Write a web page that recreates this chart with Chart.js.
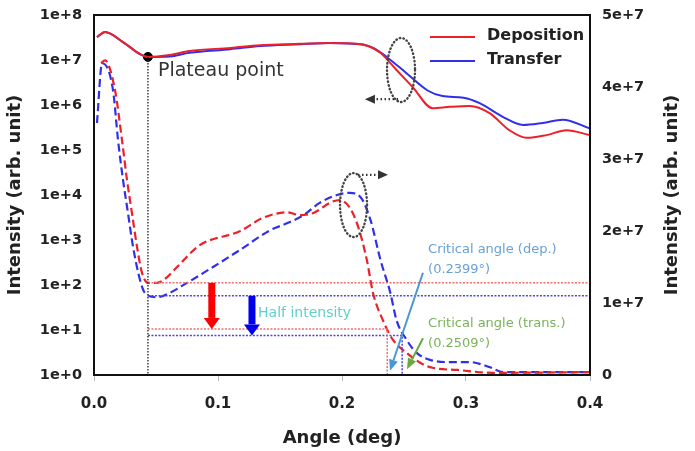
<!DOCTYPE html>
<html>
<head>
<meta charset="utf-8">
<script src="https://cdn.jsdelivr.net/npm/chart.js@4.4.1/dist/chart.umd.min.js"></script>
<style>
  html, body { margin: 0; padding: 0; background: #fff; }
</style>
</head>
<body>
<canvas id="myChart" width="695" height="451"></canvas>
<script>
// ---- data ----
// solid curves, left (log) axis
const depSolidAngle = [0.0024, 0.0089, 0.0234, 0.0371, 0.0435, 0.061, 0.077, 0.110, 0.134, 0.166, 0.190, 0.212, 0.222, 0.231, 0.244, 0.257, 0.273, 0.287, 0.303, 0.319, 0.335, 0.349, 0.365, 0.381, 0.400];
const depSolid = [3.2e7, 4.2e7, 2.5e7, 1.35e7, 1.17e7, 1.29e7, 1.58e7, 1.86e7, 2.14e7, 2.29e7, 2.4e7, 2.3e7, 2.0e7, 1.45e7, 6.0e6, 2.5e6, 8.5e5, 9.1e5, 9.5e5, 6.6e5, 2.75e5, 1.86e5, 2.14e5, 2.75e5, 2.14e5];
const trSolidAngle = [0.0024, 0.0089, 0.0234, 0.0371, 0.0435, 0.061, 0.077, 0.110, 0.134, 0.166, 0.190, 0.217, 0.226, 0.236, 0.252, 0.269, 0.281, 0.298, 0.311, 0.330, 0.346, 0.362, 0.378, 0.400];
const trSolid = [3.2e7, 4.2e7, 2.5e7, 1.35e7, 1.17e7, 1.2e7, 1.45e7, 1.74e7, 2.04e7, 2.24e7, 2.4e7, 2.2e7, 1.8e7, 1.17e7, 5.1e6, 2.1e6, 1.58e6, 1.45e6, 1.1e6, 5.4e5, 3.6e5, 4.0e5, 4.7e5, 3.0e5];

// dashed curves, right (linear) axis
const depDashAngle = [0.0056, 0.0089, 0.0169, 0.0226, 0.0266, 0.0306, 0.0347, 0.0387, 0.0435, 0.0508, 0.057, 0.067, 0.085, 0.118, 0.136, 0.156, 0.166, 0.177, 0.190, 0.198, 0.206, 0.213, 0.220, 0.225, 0.233, 0.241, 0.252, 0.263, 0.273, 0.293, 0.322, 0.400];
const depDash = [4.33e7, 4.37e7, 3.96e7, 3.26e7, 2.71e7, 2.25e7, 1.78e7, 1.42e7, 1.28e7, 1.28e7, 1.33e7, 1.5e7, 1.8e7, 2.0e7, 2.18e7, 2.26e7, 2.22e7, 2.25e7, 2.39e7, 2.43e7, 2.33e7, 2.06e7, 1.6e7, 1.14e7, 0.76e7, 0.49e7, 0.31e7, 0.17e7, 0.1e7, 0.07e7, 0.03e7, 0.04e7];
const trDashAngle = [0.0024, 0.0065, 0.0153, 0.0194, 0.0234, 0.0274, 0.0315, 0.0371, 0.0411, 0.0508, 0.061, 0.075, 0.096, 0.118, 0.142, 0.156, 0.169, 0.182, 0.196, 0.206, 0.215, 0.223, 0.231, 0.239, 0.244, 0.252, 0.260, 0.271, 0.287, 0.303, 0.319, 0.330, 0.400];
const trDash = [3.5e7, 4.33e7, 3.96e7, 3.26e7, 2.71e7, 2.25e7, 1.78e7, 1.32e7, 1.14e7, 1.08e7, 1.14e7, 1.28e7, 1.5e7, 1.74e7, 2.01e7, 2.11e7, 2.22e7, 2.39e7, 2.5e7, 2.53e7, 2.47e7, 2.15e7, 1.6e7, 1.14e7, 0.76e7, 0.49e7, 0.31e7, 0.21e7, 0.18e7, 0.18e7, 0.11e7, 0.04e7, 0.04e7];

// plateau point and half-intensity levels
const plateauAngle = 0.0435;
const plateauValue = 1.17e7;
const depPlateauDash = 1.28e7;
const trPlateauDash = 1.1e7;
const depHalf = 0.64e7;
const trHalf = 0.55e7;
const depCritical = 0.2365;
const trCritical = 0.2485;

// tick labels
const xTickLabels = ['0.0', '0.1', '0.2', '0.3', '0.4'];
const leftTickValues = [1, 1e1, 1e2, 1e3, 1e4, 1e5, 1e6, 1e7, 1e8];
const leftTickLabels = ['1e+0', '1e+1', '1e+2', '1e+3', '1e+4', '1e+5', '1e+6', '1e+7', '1e+8'];
const rightTickLabels = ['0', '1e+7', '2e+7', '3e+7', '4e+7', '5e+7'];

const seriesNames = ['Deposition', 'Transfer'];

// ---- styling ----
const RED = 'rgb(236, 32, 40)';
const BLUE = 'rgb(48, 48, 236)';
const BOLD = 'DejaVu Sans';
const TXT = '#222';

const zip = (xs, ys) => xs.map((v, i) => ({ x: v, y: ys[i] }));

const curve = (label, xs, ys, color, axis, dash) => ({
  label: label,
  data: zip(xs, ys),
  yAxisID: axis,
  borderColor: color,
  borderWidth: dash ? 2.2 : 2,
  borderDash: dash ? [8, 4] : [],
  pointRadius: 0,
  cubicInterpolationMode: 'monotone',
  fill: false,
});

const guide = (pts, color, axis, dash, width) => ({
  label: '',
  data: pts,
  yAxisID: axis,
  borderColor: color,
  borderWidth: width || 1.4,
  borderDash: dash,
  pointRadius: 0,
  tension: 0,
  fill: false,
});

function arrow(ctx, x0, y0, x1, y1, w, headW, headL, color, dash) {
  const ang = Math.atan2(y1 - y0, x1 - x0);
  const bx = x1 - headL * Math.cos(ang), by = y1 - headL * Math.sin(ang);
  ctx.save();
  ctx.strokeStyle = color;
  ctx.fillStyle = color;
  ctx.lineWidth = w;
  ctx.setLineDash(dash || []);
  ctx.beginPath();
  ctx.moveTo(x0, y0);
  ctx.lineTo(bx, by);
  ctx.stroke();
  ctx.setLineDash([]);
  const nx = -Math.sin(ang) * headW / 2, ny = Math.cos(ang) * headW / 2;
  ctx.beginPath();
  ctx.moveTo(x1, y1);
  ctx.lineTo(bx + nx, by + ny);
  ctx.lineTo(bx - nx, by - ny);
  ctx.closePath();
  ctx.fill();
  ctx.restore();
}

function dottedEllipse(ctx, cx, cy, rx, ry) {
  ctx.save();
  ctx.strokeStyle = '#444';
  ctx.lineWidth = 2.4;
  ctx.lineCap = 'round';
  ctx.setLineDash([0.5, 3.2]);
  ctx.beginPath();
  ctx.ellipse(cx, cy, rx, ry, 0, 0, Math.PI * 2);
  ctx.stroke();
  ctx.restore();
}

const overlay = {
  id: 'overlay',
  afterDatasetsDraw(chart) {
    const { ctx, scales: { x, y, y1 } } = chart;
    const px = (v) => x.getPixelForValue(v);
    const pl = (v) => y.getPixelForValue(v);
    const pr = (v) => y1.getPixelForValue(v);

    // half intensity arrows
    arrow(ctx, px(0.095), pr(depPlateauDash), px(0.095), pr(depHalf), 7, 16, 11, 'rgb(250, 0, 0)');
    arrow(ctx, px(0.1274), pr(trPlateauDash), px(0.1274), pr(trHalf), 7, 16, 11, 'rgb(0, 0, 235)');

    ctx.save();
    ctx.textBaseline = 'middle';
    ctx.textAlign = 'left';
    ctx.fillStyle = 'rgb(96, 208, 204)';
    ctx.font = '14px "DejaVu Sans"';
    ctx.fillText('Half intensity', px(0.1323), pr(0.86e7));

    // critical angle labels
    ctx.font = '13px "DejaVu Sans"';
    ctx.fillStyle = 'rgb(104, 160, 216)';
    ctx.fillText('Critical angle (dep.)', px(0.2694), pr(1.74e7));
    ctx.fillText('(0.2399°)', px(0.2694), pr(1.46e7));
    ctx.fillStyle = 'rgb(122, 178, 88)';
    ctx.fillText('Critical angle (trans.)', px(0.2694), pr(0.71e7));
    ctx.fillText('(0.2509°)', px(0.2694), pr(0.43e7));

    // plateau label
    ctx.font = '19px "DejaVu Sans"';
    ctx.fillStyle = '#333';
    ctx.fillText('Plateau point', px(0.0516), pl(5.7e6));
    ctx.restore();

    arrow(ctx, px(0.2653), pr(1.42e7), px(0.2387), pr(0.06e7), 2, 9, 11, 'rgb(74, 150, 214)');
    arrow(ctx, px(0.2653), pr(0.51e7), px(0.2524), pr(0.08e7), 2, 9, 11, 'rgb(104, 170, 64)');

    // dotted ellipses with pointers to the axis they belong to
    dottedEllipse(ctx, px(0.2476), pl(6.0e6), 14, 32);
    arrow(ctx, px(0.2452), pl(1.35e6), px(0.2185), pl(1.35e6), 2.4, 9, 10, '#333', [1.5, 2.5]);
    dottedEllipse(ctx, px(0.2093), pr(2.36e7), 13.5, 32);
    arrow(ctx, px(0.2129), pr(2.78e7), px(0.2371), pr(2.78e7), 2.4, 9, 10, '#333', [1.5, 2.5]);
  },
  afterDraw(chart) {
    const { ctx, chartArea: a } = chart;
    ctx.save();
    // plot frame
    ctx.strokeStyle = '#111';
    ctx.lineWidth = 2;
    ctx.strokeRect(a.left, a.top, a.right - a.left, a.bottom - a.top);

    // legend
    const colors = [RED, BLUE];
    ctx.font = 'bold 16px "DejaVu Sans"';
    ctx.textBaseline = 'middle';
    ctx.textAlign = 'left';
    seriesNames.forEach((name, i) => {
      const yy = a.top + 22 + i * 24;
      ctx.strokeStyle = colors[i];
      ctx.lineWidth = 2;
      ctx.beginPath();
      ctx.moveTo(a.right - 160, yy);
      ctx.lineTo(a.right - 115, yy);
      ctx.stroke();
      ctx.fillStyle = TXT;
      ctx.fillText(name, a.right - 103, yy - 1);
    });

    // right axis title, reads bottom to top like the left one
    ctx.translate(672, (a.top + a.bottom) / 2);
    ctx.rotate(-Math.PI / 2);
    ctx.textAlign = 'center';
    ctx.font = 'bold 18px "DejaVu Sans"';
    ctx.fillStyle = TXT;
    ctx.fillText('Intensity (arb. unit)', 0, 0);
    ctx.restore();
  },
};

// invisible tick marks push the labels away from the frame without
// inflating the layout's top padding the way ticks.padding does
const hiddenTicks = { drawOnChartArea: false, drawTicks: true, tickLength: 10, color: 'rgba(0,0,0,0)' };

const chart = new Chart(document.getElementById('myChart').getContext('2d'), {
  type: 'line',
  data: {
    datasets: [
      guide(zip([plateauAngle, plateauAngle], [plateauValue, 1]), '#222', 'y', [1.5, 1.5], 1.3),
      guide(zip([plateauAngle, 0.4], [depPlateauDash, depPlateauDash]), 'rgb(240, 110, 110)', 'y1', [2, 1.5], 1.5),
      guide(zip([plateauAngle, 0.4], [trPlateauDash, trPlateauDash]), 'rgb(70, 70, 225)', 'y1', [2, 1.5], 1.5),
      guide(zip([plateauAngle, depCritical, depCritical], [depHalf, depHalf, 0]), 'rgb(240, 110, 110)', 'y1', [2, 1.5], 1.5),
      guide(zip([plateauAngle, trCritical, trCritical], [trHalf, trHalf, 0]), 'rgb(70, 70, 225)', 'y1', [2, 1.5], 1.5),
      curve(seriesNames[0], depSolidAngle, depSolid, RED, 'y', false),
      curve(seriesNames[1], trSolidAngle, trSolid, BLUE, 'y', false),
      curve(seriesNames[0], depDashAngle, depDash, RED, 'y1', true),
      curve(seriesNames[1], trDashAngle, trDash, BLUE, 'y1', true),
      {
        label: '',
        data: [{ x: plateauAngle, y: plateauValue }],
        yAxisID: 'y',
        showLine: false,
        pointRadius: 4.5,
        pointBackgroundColor: '#000',
        pointBorderColor: '#000',
      },
    ],
  },
  options: {
    responsive: false,
    animation: false,
    layout: { padding: { top: 15, left: 0, right: 0, bottom: 0 } },
    plugins: {
      legend: { display: false },
      tooltip: { enabled: false },
    },
    scales: {
      x: {
        type: 'linear',
        min: 0,
        max: 0.4,
        ticks: {
          stepSize: 0.1,
          padding: 14,
          color: TXT,
          font: { family: BOLD, size: 15, weight: 'bold' },
          callback: (v, i) => xTickLabels[i],
        },
        grid: { drawOnChartArea: false, drawTicks: true, tickLength: 6, color: '#bbb' },
        border: { display: false },
        title: {
          display: true,
          text: 'Angle (deg)',
          color: TXT,
          font: { family: BOLD, size: 18, weight: 'bold' },
          padding: { top: 0, bottom: 2 },
        },
        afterFit: (s) => { s.height = 76; },
      },
      y: {
        type: 'logarithmic',
        position: 'left',
        min: 1,
        max: 1e8,
        afterBuildTicks: (s) => { s.ticks = leftTickValues.map((v) => ({ value: v })); },
        ticks: {
          padding: 2,
          color: TXT,
          font: { family: BOLD, size: 14.5, weight: 'bold' },
          callback: (v, i) => leftTickLabels[i],
        },
        grid: hiddenTicks,
        border: { display: false },
        title: {
          display: true,
          text: 'Intensity (arb. unit)',
          color: TXT,
          font: { family: BOLD, size: 18, weight: 'bold' },
          padding: { top: 5, bottom: 0 },
        },
        afterFit: (s) => { s.width = 94; },
      },
      y1: {
        type: 'linear',
        position: 'right',
        min: 0,
        max: 5e7,
        ticks: {
          stepSize: 1e7,
          padding: 2,
          color: TXT,
          font: { family: BOLD, size: 14.5, weight: 'bold' },
          callback: (v, i) => rightTickLabels[i],
        },
        grid: hiddenTicks,
        border: { display: false },
        afterFit: (s) => { s.width = 105; },
      },
    },
  },
  plugins: [overlay],
});
</script>
</body>
</html>
